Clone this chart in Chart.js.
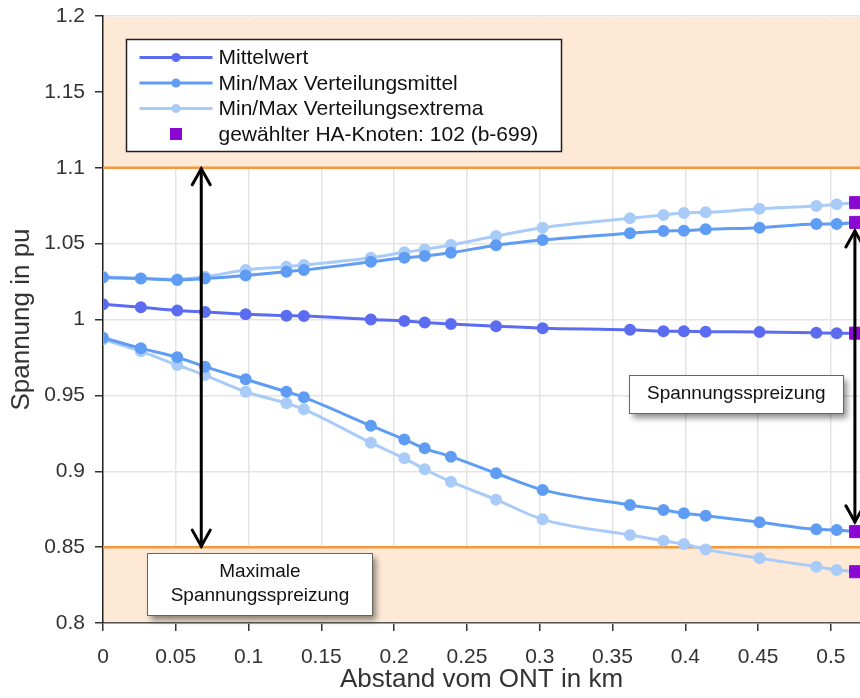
<!DOCTYPE html>
<html>
<head>
<meta charset="utf-8">
<script src="https://cdn.jsdelivr.net/npm/chart.js@4"></script>
<style>
  html, body { margin: 0; padding: 0; background: #fff; }
</style>
</head>
<body>
<canvas id="chart" width="860" height="698"></canvas>
<script>
// distance from the ONT (km) for every node along the feeder
const distanceKm = [0, 0.026, 0.051, 0.07, 0.098, 0.126, 0.138, 0.184, 0.207, 0.221, 0.239,
  0.27, 0.302, 0.362, 0.385, 0.399, 0.414, 0.451, 0.49, 0.504, 0.517];

const meanVoltage = [1.010, 1.008, 1.006, 1.005, 1.0035, 1.0025, 1.0023, 1.000, 0.999, 0.998, 0.997,
  0.9955, 0.9943, 0.9932, 0.9923, 0.9922, 0.992, 0.9918, 0.9912, 0.991, 0.9909];

const distMeanMax = [1.0276, 1.027, 1.026, 1.027, 1.029, 1.0315, 1.0326, 1.038, 1.0407, 1.0418, 1.044,
  1.049, 1.0524, 1.0568, 1.0583, 1.0585, 1.0594, 1.0605, 1.0629, 1.063, 1.064];
const distMeanMin = [0.988, 0.981, 0.9751, 0.9689, 0.9606, 0.9524, 0.9487, 0.930, 0.921, 0.9151, 0.9096,
  0.8987, 0.8877, 0.8778, 0.8745, 0.8723, 0.8707, 0.8664, 0.8617, 0.8613, 0.8602];

const extremaMax = [1.0282, 1.0271, 1.0266, 1.0282, 1.0326, 1.0348, 1.0359, 1.0407, 1.0443, 1.0462, 1.0491,
  1.055, 1.0605, 1.0667, 1.0689, 1.0702, 1.0706, 1.073, 1.0748, 1.0759, 1.077];
const extremaMin = [0.987, 0.979, 0.970, 0.9634, 0.9524, 0.9448, 0.9408, 0.9188, 0.9085, 0.9013, 0.8931,
  0.8813, 0.8683, 0.858, 0.8542, 0.852, 0.8485, 0.8426, 0.8371, 0.8349, 0.8338];

// selected house connection node (last node of the feeder)
const selectedX = 0.517;
const selectedY = [1.077, 1.064, 0.991, 0.8602, 0.8338];

// voltage band limits
const upperLimit = 1.1;
const lowerLimit = 0.85;

// spread arrows and their captions (data units)
const spreadArrows = [
  { x: 0.0675, from: 1.1, to: 0.85 },
  { x: 0.5165, from: 1.059, to: 0.866 }
];
const captions = [
  { x: 0.435, y: 0.951, w: 214, h: 38, lines: ['Spannungsspreizung'] },
  { x: 0.1078, y: 0.8257, w: 225, h: 62, lines: ['Maximale', 'Spannungsspreizung'] }
];

const C_MEAN = '#5b6cf1';
const C_DIST = '#5f9cf4';
const C_EXT = '#a9cbf8';
const C_SEL = '#8a08d0';
const C_BAND = '#fde9d5';
const C_LIMIT = '#f5973a';
const FONT = '"Liberation Sans", Arial, sans-serif';

const pts = (ys) => distanceKm.map((x, i) => ({ x, y: ys[i] }));

function lineSet(label, ys, color, legendOrder) {
  return {
    label,
    data: pts(ys),
    borderColor: color,
    backgroundColor: color,
    borderWidth: 3,
    pointRadius: 4.5,
    pointHoverRadius: 4.5,
    showLine: true,
    cubicInterpolationMode: 'monotone',
    legendOrder
  };
}

const datasets = [
  {
    label: 'gewählter HA-Knoten: 102 (b-699)',
    data: selectedY.map((y) => ({ x: selectedX, y })),
    backgroundColor: C_SEL,
    borderColor: C_SEL,
    pointStyle: 'rect',
    pointRadius: 8.5,
    showLine: false,
    legendOrder: 3,
    legendType: 'square'
  },
  lineSet('Mittelwert', meanVoltage, C_MEAN, 0),
  lineSet('Min/Max Verteilungsmittel', distMeanMax, C_DIST, 1),
  lineSet('Min/Max Verteilungsmittel', distMeanMin, C_DIST),
  lineSet('Min/Max Verteilungsextrema', extremaMax, C_EXT, 2),
  lineSet('Min/Max Verteilungsextrema', extremaMin, C_EXT)
];

const bandPlugin = {
  id: 'bands',
  beforeDatasetsDraw(chart) {
    const { ctx, chartArea: a, scales: { y } } = chart;
    const yUp = y.getPixelForValue(upperLimit);
    const yLo = y.getPixelForValue(lowerLimit);
    ctx.save();
    ctx.fillStyle = C_BAND;
    ctx.fillRect(a.left + 1, a.top + 1, a.right - a.left, yUp - a.top - 1);
    ctx.fillRect(a.left + 1, yLo, a.right - a.left, a.bottom - yLo - 1);
    ctx.strokeStyle = C_LIMIT;
    ctx.lineWidth = 2.5;
    ctx.beginPath();
    ctx.moveTo(a.left, yUp); ctx.lineTo(a.right, yUp);
    ctx.moveTo(a.left, yLo); ctx.lineTo(a.right, yLo);
    ctx.stroke();
    ctx.restore();
  }
};

function arrowHead(ctx, x, y, dir) {
  ctx.beginPath();
  ctx.moveTo(x - 9, y + dir * 16);
  ctx.lineTo(x, y);
  ctx.lineTo(x + 9, y + dir * 16);
  ctx.stroke();
}

const annotationPlugin = {
  id: 'spread',
  afterDatasetsDraw(chart) {
    const { ctx, scales: { x, y } } = chart;
    ctx.save();
    ctx.strokeStyle = '#000';
    ctx.lineWidth = 3;
    ctx.lineCap = 'round';
    spreadArrows.forEach((a) => {
      const px = x.getPixelForValue(a.x);
      const y1 = y.getPixelForValue(a.from);
      const y2 = y.getPixelForValue(a.to);
      ctx.beginPath();
      ctx.moveTo(px, y1 + 1);
      ctx.lineTo(px, y2 - 1);
      ctx.stroke();
      arrowHead(ctx, px, y1 + 1, 1);
      arrowHead(ctx, px, y2 - 1, -1);
    });

    captions.forEach((c) => {
      const cx = x.getPixelForValue(c.x);
      const cy = y.getPixelForValue(c.y);
      const l = Math.round(cx - c.w / 2) + 0.5;
      const t = Math.round(cy - c.h / 2) + 0.5;
      ctx.save();
      ctx.shadowColor = 'rgba(0,0,0,0.45)';
      ctx.shadowBlur = 6;
      ctx.shadowOffsetX = 3;
      ctx.shadowOffsetY = 4;
      ctx.fillStyle = '#fff';
      ctx.fillRect(l, t, c.w, c.h);
      ctx.restore();
      ctx.strokeStyle = '#666';
      ctx.lineWidth = 1;
      ctx.strokeRect(l, t, c.w, c.h);
      ctx.fillStyle = '#111';
      ctx.font = '19px ' + FONT;
      ctx.textAlign = 'center';
      ctx.textBaseline = 'middle';
      const lh = 24;
      c.lines.forEach((s, i) => {
        ctx.fillText(s, cx, cy + (i - (c.lines.length - 1) / 2) * lh);
      });
    });
    ctx.restore();
  }
};

const legendPlugin = {
  id: 'boxLegend',
  afterDraw(chart) {
    const { ctx, chartArea: a } = chart;
    const items = chart.data.datasets
      .filter((d) => d.legendOrder !== undefined)
      .sort((p, q) => p.legendOrder - q.legendOrder);
    const left = a.left + 23.5, top = a.top + 23.5, w = 435, h = 112;
    ctx.save();
    ctx.fillStyle = '#fff';
    ctx.fillRect(left, top, w, h);
    ctx.strokeStyle = '#222';
    ctx.lineWidth = 1.5;
    ctx.strokeRect(left, top, w, h);
    ctx.font = '21px ' + FONT;
    ctx.textBaseline = 'middle';
    ctx.textAlign = 'left';
    items.forEach((d, i) => {
      const yy = top + 18 + i * 25.5;
      const x0 = left + 13, x1 = left + 86, xm = (x0 + x1) / 2;
      if (d.legendType === 'square') {
        ctx.fillStyle = d.backgroundColor;
        ctx.fillRect(xm - 6, yy - 6, 12, 12);
      } else {
        ctx.strokeStyle = d.borderColor;
        ctx.lineWidth = 3;
        ctx.beginPath();
        ctx.moveTo(x0, yy); ctx.lineTo(x1, yy);
        ctx.stroke();
        ctx.fillStyle = d.backgroundColor;
        ctx.beginPath();
        ctx.arc(xm, yy, 4.5, 0, Math.PI * 2);
        ctx.fill();
      }
      ctx.fillStyle = '#111';
      ctx.fillText(d.label, left + 92, yy + 1);
    });
    ctx.restore();
  }
};

const tickFmt = (v) => String(+v.toFixed(2));

new Chart(document.getElementById('chart').getContext('2d'), {
  type: 'scatter',
  data: { datasets },
  plugins: [bandPlugin, annotationPlugin, legendPlugin],
  options: {
    responsive: false,
    animation: false,
    layout: { autoPadding: false, padding: { top: 16, right: 0, left: 0, bottom: 0 } },
    plugins: {
      legend: { display: false },
      tooltip: { enabled: false }
    },
    scales: {
      x: {
        type: 'linear',
        min: 0,
        max: 0.52,
        afterFit: (s) => { s.height = 75; s.paddingLeft = 0; s.paddingRight = 0; },
        grid: { color: '#e4e4e4', tickColor: '#333', tickLength: 8, lineWidth: 1.5 },
        border: { color: '#555', width: 1.5 },
        ticks: {
          stepSize: 0.05,
          includeBounds: false,
          callback: tickFmt,
          color: '#333',
          padding: 14,
          maxRotation: 0,
          font: { family: FONT, size: 21 }
        },
        title: {
          display: true,
          text: 'Abstand vom ONT in km',
          color: '#333',
          padding: { top: 0, bottom: 3 },
          font: { family: FONT, size: 26 }
        }
      },
      y: {
        min: 0.8,
        max: 1.2,
        afterFit: (s) => { s.width = 103; s.paddingTop = 0; s.paddingBottom = 0; },
        grid: { color: '#e4e4e4', tickColor: '#333', tickLength: 8, lineWidth: 1.5 },
        border: { color: '#222', width: 1.5 },
        ticks: {
          stepSize: 0.05,
          includeBounds: false,
          callback: tickFmt,
          color: '#333',
          padding: 10,
          font: { family: FONT, size: 21 }
        },
        title: {
          display: true,
          text: 'Spannung in pu',
          color: '#333',
          padding: { top: 6, bottom: 0 },
          font: { family: FONT, size: 26 }
        }
      }
    }
  }
});
</script>
</body>
</html>
